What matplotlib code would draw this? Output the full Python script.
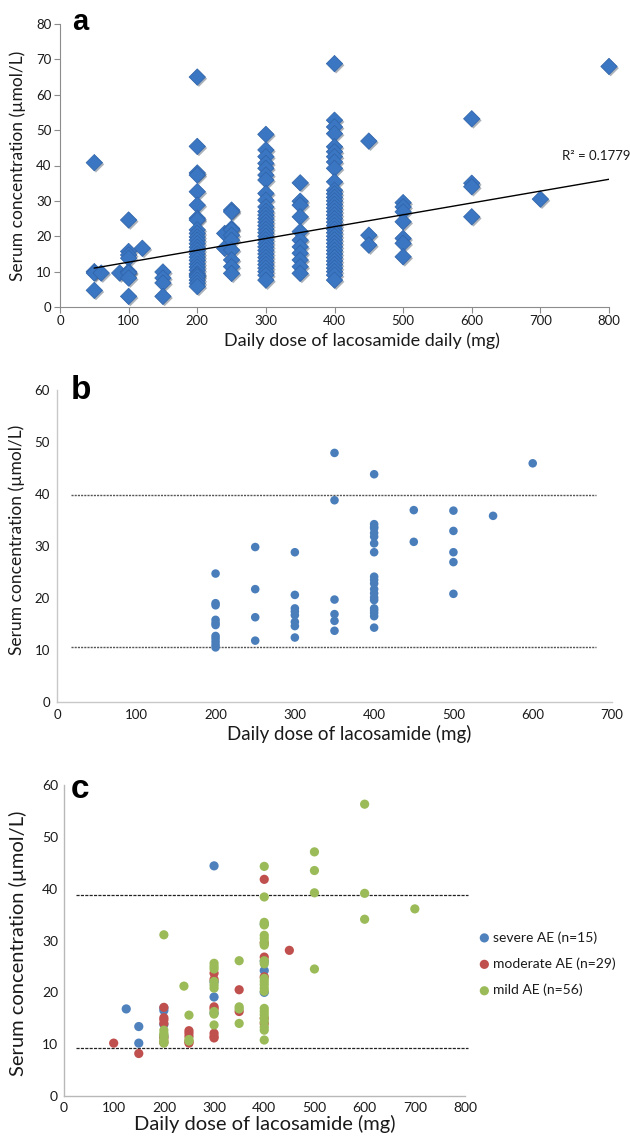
import matplotlib
matplotlib.use("Agg")
import matplotlib.pyplot as plt
import matplotlib.patheffects as pe
import numpy as np

plt.rcParams['font.family'] = ['Lato', 'DejaVu Sans']

# ---------------- Panel a data ----------------
a_dose = {
    50: [40.8, 10.0, 9.6, 4.7],
    60: [9.6],
    87: [9.6],
    100: [24.6, 15.7, 14.7, 13.8, 10.0, 9.6, 8.2, 3.0],
    120: [16.6],
    150: [9.9, 8.2, 6.8, 3.0],
    200: [65.0, 45.4, 37.9, 37.3, 32.6, 28.8, 25.1, 24.6, 21.8, 20.8, 19.8,
          18.9, 17.9, 16.9, 16.0, 15.0, 14.1, 13.2, 12.2, 11.3, 10.4, 9.4,
          9.0, 8.5, 7.6, 6.7, 5.8],
    240: [20.8, 16.6],
    250: [27.4, 26.9, 22.2, 21.8, 20.3, 18.9, 16.1, 13.3, 11.4, 9.5],
    300: [48.8, 44.4, 42.5, 40.6, 39.2, 37.3, 35.9, 32.1, 30.2, 28.3, 27.0,
          26.0, 25.0, 24.0, 23.0, 22.0, 21.0, 20.0, 19.0, 18.0, 17.0, 16.0,
          15.0, 14.0, 13.0, 12.0, 11.0, 10.0, 9.0, 7.6],
    350: [35.1, 29.9, 28.8, 25.5, 21.3, 18.9, 17.0, 15.2, 13.3, 11.4, 9.5],
    400: [68.8, 52.8, 50.9, 49.0, 45.3, 43.9, 42.5, 41.0, 39.2, 35.4, 33.0,
          32.0, 31.0, 30.0, 29.0, 28.0, 27.0, 26.0, 25.0, 24.0, 23.0, 22.0,
          21.0, 20.0, 19.0, 18.0, 17.0, 16.0, 15.0, 14.0, 13.0, 12.0, 11.0,
          10.0, 9.0, 7.6],
    450: [46.9, 20.3, 17.5],
    500: [29.5, 28.3, 26.9, 24.1, 19.4, 18.0, 14.2],
    600: [53.2, 35.0, 34.0, 25.5],
    700: [30.5],
    800: [68.0],
}
a_x = [d for d, vals in a_dose.items() for _ in vals]
a_y = [v for vals in a_dose.values() for v in vals]
trend_slope = 0.03347
trend_intercept = 9.33
trend_range = [50, 800]
r2_text = "R\u00b2 = 0.1779"

# ---------------- Panel b data ----------------
b_dose = {
    200: [24.7, 19.0, 18.6, 15.8, 15.2, 14.8, 12.7, 12.2, 11.6, 11.0, 10.5],
    250: [29.8, 21.7, 16.3, 11.8],
    300: [28.8, 20.6, 18.0, 17.4, 16.7, 15.4, 14.6, 12.4],
    350: [47.9, 38.8, 19.7, 16.9, 15.6, 13.7],
    400: [43.8, 34.2, 33.7, 33.4, 32.5, 31.8, 30.5, 28.8, 24.1, 23.5, 22.8,
          21.7, 20.9, 20.1, 19.6, 18.0, 17.6, 17.1, 16.5, 14.3],
    450: [36.9, 30.8],
    500: [36.8, 32.9, 28.8, 26.9, 20.8],
    550: [35.8],
    600: [45.9],
}
b_x = [d for d, vals in b_dose.items() for _ in vals]
b_y = [v for vals in b_dose.values() for v in vals]
b_ref = [39.8, 10.6]

# ---------------- Panel c data ----------------
severe_x = [125, 150, 150, 200, 200, 200, 200, 300, 300, 300, 300, 400, 400, 400, 400]
severe_y = [16.8, 13.4, 10.2, 17.0, 13.8, 16.5, 11.5, 44.4, 19.1, 16.0, 22.0, 33.2, 24.2, 20.0, 26.0]
moderate_x = [100, 150, 200, 200, 200, 200, 200, 200, 250, 250, 250, 250, 250,
              300, 300, 300, 300, 300, 300, 300, 350, 350, 400, 400, 400, 400, 400, 400, 450]
moderate_y = [10.2, 8.2, 17.1, 15.1, 14.7, 14.0, 11.2, 10.3, 12.6, 12.1, 11.5, 10.5, 10.2,
              23.7, 22.5, 17.2, 16.8, 12.1, 11.5, 11.2, 20.5, 16.3, 41.8, 29.5, 26.8, 23.0, 15.0, 14.0, 28.1]
mild_x = ([200] * 8 + [240] + [250] * 3 + [300] * 9 + [350] * 4 + [400] * 23
          + [500] * 4 + [600] * 3 + [700])
mild_y = ([31.1, 12.7, 12.1, 11.8, 11.5, 10.8, 10.5, 10.2]
          + [21.2]
          + [15.6, 10.9, 10.6]
          + [25.6, 25.0, 24.5, 22.1, 21.4, 20.8, 16.3, 15.8, 13.7]
          + [26.1, 17.2, 16.8, 14.0]
          + [44.3, 38.4, 33.5, 33.0, 31.0, 30.4, 29.7, 29.1, 26.1, 25.5, 22.7, 22.1,
             21.5, 20.8, 20.2, 16.9, 16.3, 15.7, 15.0, 14.3, 13.3, 12.7, 10.8]
          + [47.1, 43.5, 39.2, 24.5]
          + [56.3, 39.1, 34.1]
          + [36.1])
c_ref = [38.7, 9.2]
c_labels = ["severe AE (n=15)", "moderate AE (n=29)", "mild AE (n=56)"]
c_colors = ["#4F81BD", "#C0504D", "#9BBB59"]

# ---------------- Figure ----------------
W, H = 630, 1138
fig = plt.figure(figsize=(W / 100, H / 100), dpi=100)

def frac(left, right, top, bottom):
    return [left / W, 1 - bottom / H, (right - left) / W, (bottom - top) / H]

tick_fs = 9.5
label_col = '#1a1a1a'

# Panel a
axa = fig.add_axes(frac(60, 609, 24, 307))
shadow = [pe.SimplePatchShadow(offset=(1.2, -1.2), alpha=0.35), pe.Normal()]
axa.scatter(a_x, a_y, marker='D', s=70, color='#3B76C2', edgecolors='#2F63A8',
            linewidths=0.5, zorder=3, path_effects=shadow, clip_on=False)
tx = np.array(trend_range)
axa.plot(tx, trend_slope * tx + trend_intercept, color='black', lw=1.0, zorder=4)
axa.text(0.915, 0.535, r2_text, transform=axa.transAxes, fontsize=9.5,
         color=label_col, ha='left', va='center')
axa.set_xlim(0, 800)
axa.set_ylim(0, 80)
axa.set_xticks(range(0, 801, 100))
axa.set_yticks(range(0, 81, 10))
for s in ['top', 'right']:
    axa.spines[s].set_visible(False)
for s in ['left', 'bottom']:
    axa.spines[s].set_color('#8c8c8c')
    axa.spines[s].set_linewidth(0.8)
axa.tick_params(direction='out', length=4, width=0.8, color='#8c8c8c',
                labelsize=tick_fs, labelcolor=label_col, pad=2)
axa.set_ylabel("Serum concentration (\u00b5mol/L)", fontsize=12.5, color=label_col)
axa.yaxis.set_label_coords(-0.062, 0.5)
axa.set_xlabel("Daily dose of lacosamide daily (mg)", fontsize=13, color=label_col)
axa.xaxis.set_label_coords(0.55, -0.09)
fig.text(72 / W, 1 - 22 / H, "a", fontsize=21, fontweight='bold',
         family='Liberation Sans', va='center', ha='left')

# Panel b
axb = fig.add_axes(frac(57, 612, 390, 702))
axb.scatter(b_x, b_y, marker='o', s=38, color='#4A7EBB', edgecolors='none', zorder=3)
for lvl in b_ref:
    axb.plot([18, 680], [lvl, lvl], color='#555555', lw=1.0,
             linestyle=(0, (1.5, 0.8)), zorder=2)
axb.set_xlim(0, 700)
axb.set_ylim(0, 60)
axb.set_xticks(range(0, 701, 100))
axb.set_yticks(range(0, 61, 10))
for s in ['top', 'right']:
    axb.spines[s].set_visible(False)
for s in ['left', 'bottom']:
    axb.spines[s].set_color('#C8C8C8')
    axb.spines[s].set_linewidth(1.0)
axb.tick_params(length=0, labelsize=tick_fs, labelcolor=label_col, pad=5)
axb.set_ylabel("Serum concentration (\u00b5mol/L)", fontsize=12.5, color=label_col)
axb.yaxis.set_label_coords(-0.058, 0.52)
axb.set_xlabel("Daily dose of lacosamide (mg)", fontsize=13.5, color=label_col)
axb.xaxis.set_label_coords(0.527, -0.075)
fig.text(71 / W, 1 - 390 / H, "b", fontsize=24, fontweight='bold',
         family='Liberation Sans', va='center', ha='left')

# Panel c
axc = fig.add_axes(frac(63.5, 465, 785, 1096))
for xs, ys, lab, col in zip([severe_x, moderate_x, mild_x], [severe_y, moderate_y, mild_y],
                            c_labels, c_colors):
    axc.scatter(xs, ys, marker='o', s=44, color=col, edgecolors='none', zorder=3, label=lab)
for lvl in c_ref:
    axc.plot([25, 805], [lvl, lvl], color='#222222', lw=0.9,
             linestyle=(0, (2.5, 1)), zorder=2, clip_on=False)
axc.set_xlim(0, 800)
axc.set_ylim(0, 60)
axc.set_xticks(range(0, 801, 100))
axc.set_yticks(range(0, 61, 10))
for s in ['top', 'right']:
    axc.spines[s].set_visible(False)
for s in ['left', 'bottom']:
    axc.spines[s].set_color('#B8B8B8')
    axc.spines[s].set_linewidth(1.0)
axc.tick_params(length=0, labelsize=10, labelcolor=label_col, pad=4)
axc.set_ylabel("Serum concentration (\u00b5mol/L)", fontsize=14.5, color=label_col)
axc.yaxis.set_label_coords(-0.09, 0.49)
axc.set_xlabel("Daily dose of lacosamide (mg)", fontsize=14.5, color=label_col)
axc.xaxis.set_label_coords(0.5, -0.06)
fig.text(71 / W, 1 - 790 / H, "c", fontsize=24, fontweight='bold',
         family='Liberation Sans', va='center', ha='left')
axc.legend(loc='upper left', bbox_to_anchor=(476 / W, 1 - 931 / H),
           bbox_transform=fig.transFigure, frameon=False, fontsize=10,
           handletextpad=0.0, labelspacing=1.0, handlelength=1.2,
           borderaxespad=0, borderpad=0, markerscale=1.0, labelcolor=label_col)

fig.savefig("out.png", dpi=100)
